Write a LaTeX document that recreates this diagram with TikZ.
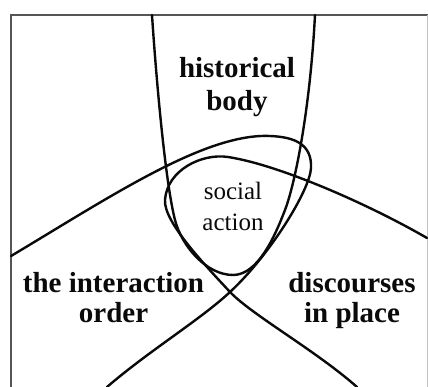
\documentclass[tikz,border=0pt]{standalone}
\usepackage{tikz}
\usepackage{fontspec}
\setmainfont{Liberation Serif}
\definecolor{ink}{RGB}{10,10,10}
\definecolor{rule}{RGB}{85,85,85}
\tikzset{
  curve/.style={draw=ink,line width=2.4pt,line cap=round,line join=round},
  frame/.style={draw=rule,line width=1.6pt},
  big/.style={font=\fontsize{29}{30}\selectfont\bfseries,align=center,inner sep=0pt,text=ink},
  small/.style={font=\fontsize{25}{31}\selectfont,align=center,inner sep=0pt,text=ink}
}
\begin{document}
\begin{tikzpicture}[x=1pt,y=-1pt]
  \useasboundingbox (0,0) rectangle (428,387);
  \draw[frame] (10,15) -- (428,15) (11,15) -- (11,387);
  \draw[frame,draw=rule!35,line width=1pt] (427.5,15) -- (427.5,387);

  % historical body
  \draw[curve] (152,15) .. controls (157,90) and (166,185) .. (175,220)
    .. controls (182,247) and (207,275) .. (233,275)
    .. controls (258,275) and (275,236) .. (285,210)
    .. controls (295,184) and (310,110) .. (315,15);
  % interaction order
  \draw[curve] (11,256) .. controls (110,197) and (205,133) .. (270,136)
    .. controls (296,137) and (312,145) .. (311,168)
    .. controls (310,190) and (270,255) .. (230,292)
    .. controls (200,320) and (150,350) .. (107,387);
  % discourses in place
  \draw[curve] (427,238) .. controls (370,205) and (280,165) .. (228,157)
    .. controls (202,153) and (167,170) .. (165,200)
    .. controls (163.5,222) and (205,265) .. (230,292)
    .. controls (252,315) and (315,350) .. (357,387);

  \node[big,font=\fontsize{29}{33}\selectfont\bfseries] (hist) at (237,87) {historical\\body};
  \node[small] (social) at (233,206) {social\\action};
  \node[big] (inter) at (113.5,298) {the interaction\\order};
  \node[big] (disc) at (352,300.5) {discourses\\in place};
\end{tikzpicture}
\end{document}
